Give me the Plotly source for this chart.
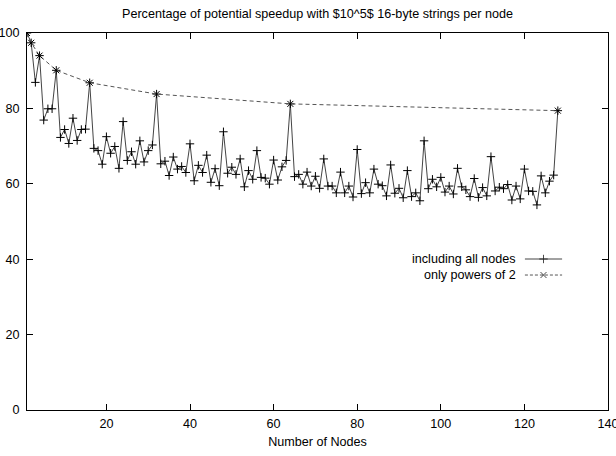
import plotly.graph_objects as go

# speedup (%) for every node count 1..128
nodes = list(range(1, 129))
speedup = [
    100.0, 97.4, 86.9, 94.0, 76.9, 79.9, 79.9, 90.1, 72.3, 74.4,
    70.7, 77.4, 71.5, 74.4, 74.5, 86.8, 69.4, 68.8, 65.2, 72.5,
    68.1, 69.9, 64.1, 76.5, 66.2, 68.5, 65.2, 71.4, 65.8, 68.8,
    70.3, 83.8, 65.3, 66.0, 62.2, 67.1, 63.9, 64.6, 63.0, 70.6,
    60.8, 64.9, 63.0, 67.6, 60.4, 64.0, 59.5, 73.8, 62.8, 64.4,
    62.5, 66.6, 59.2, 63.5, 61.2, 68.8, 61.7, 61.5, 59.9, 66.3,
    61.0, 64.5, 66.2, 81.2, 61.9, 62.5, 59.9, 63.1, 59.4, 62.0,
    58.8, 66.6, 59.4, 59.4, 57.6, 63.1, 57.6, 59.4, 56.5, 69.1,
    57.4, 60.3, 57.6, 63.9, 59.9, 59.5, 56.8, 65.0, 57.5, 58.8,
    56.3, 63.5, 56.6, 57.6, 55.5, 71.4, 58.7, 61.2, 59.2, 61.7,
    57.8, 59.4, 57.3, 64.1, 59.2, 58.4, 56.6, 61.4, 56.4, 59.0,
    56.8, 67.2, 58.1, 59.1, 58.7, 59.8, 55.7, 59.4, 56.0, 63.9,
    58.1, 58.0, 54.4, 62.1, 57.6, 60.7, 62.3, 79.4,
]

pow2_nodes = [1, 2, 4, 8, 16, 32, 64, 128]
pow2_speedup = [100.0, 97.4, 94.0, 90.1, 86.8, 83.8, 81.2, 79.4]

legend_names = ["including all nodes", "only powers of 2"]

font = "Liberation Sans, Arial, sans-serif"
fsize = 12.6

fig = go.Figure()

fig.add_trace(go.Scatter(
    x=nodes, y=speedup, mode="lines+markers",
    line=dict(color="#444444", width=1),
    marker=dict(symbol="cross-thin", size=6, line=dict(color="black", width=1)),
    showlegend=False,
))
fig.add_trace(go.Scatter(
    x=pow2_nodes, y=pow2_speedup, mode="lines+markers",
    line=dict(color="#555555", width=1, dash="4px,3px"),
    marker=dict(symbol="x-thin", size=6, line=dict(color="black", width=1)),
    showlegend=False,
))

# gnuplot style key: text right aligned, sample on the right
key_y = [0.4005, 0.358]
key_style = [
    (dict(color="#444444", width=1), "cross-thin"),
    (dict(color="#555555", width=1, dash="3px,2px"), "x-thin"),
]
for name, ky, (ln, sym) in zip(legend_names, key_y, key_style):
    fig.add_trace(go.Scatter(
        x=[0.857, 0.889, 0.921], y=[ky, ky, ky], mode="lines+markers",
        xaxis="x2", yaxis="y2", line=ln,
        marker=dict(symbol=sym, size=[0, 6, 0], line=dict(color="black", width=1)),
        showlegend=False, hoverinfo="skip",
    ))
    fig.add_annotation(x=0.845, y=ky, xref="paper", yref="paper", text=name,
                       showarrow=False, xanchor="right", yanchor="middle",
                       font=dict(family=font, size=fsize, color="black"))

fig.update_layout(
    width=616, height=456,
    margin=dict(l=27, r=8, t=33, b=46, autoexpand=False),
    paper_bgcolor="white", plot_bgcolor="white",
    font=dict(family=font, size=fsize, color="black"),
    title=dict(text="Percentage of potential speedup with $10^5$ 16-byte strings per node",
               x=0.5, xref="paper", xanchor="center",
               y=1 - 14 / 456, yref="container", yanchor="middle",
               font=dict(family=font, size=fsize, color="black")),
    xaxis=dict(range=[1, 140], tickvals=[20, 40, 60, 80, 100, 120, 140],
               showgrid=False, zeroline=False, showline=True, linecolor="black",
               linewidth=1, mirror="allticks", ticks="inside", ticklen=6,
               tickcolor="black", automargin=False, ticklabeloverflow="allow",
               ticklabelstandoff=2,
               title=dict(text="Number of Nodes", standoff=7,
                          font=dict(family=font, size=fsize))),
    yaxis=dict(range=[0, 100], tickvals=[0, 20, 40, 60, 80, 100],
               showgrid=False, zeroline=False, showline=True, linecolor="black",
               linewidth=1, mirror="allticks", ticks="inside", ticklen=6,
               tickcolor="black", ticklabelstandoff=4, automargin=False,
               ticklabeloverflow="allow"),
    xaxis2=dict(range=[0, 1], overlaying="x", visible=False),
    yaxis2=dict(range=[0, 1], overlaying="y", visible=False),
)

# drop the browser's default 8px body margin so the chart sits at the corner
fig.write_html("out.html", config={"displayModeBar": False},
               post_script="document.body.style.margin='0';")
